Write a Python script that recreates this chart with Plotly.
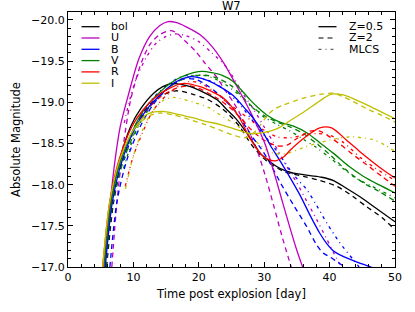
import plotly.graph_objects as go

# ---------------- data (time in days, absolute magnitude) ----------------
# Z = 0.5 (solid)
bol_z05_t = [5.6, 6.6, 7.9, 9.6, 11.1, 13.1, 14.5, 16.0, 17.0, 18.7, 20.5, 22.8, 24.3, 25.8, 27.3, 28.4, 29.4, 30.6, 31.9, 33.2, 34.5, 37.0, 38.8, 40.6, 42.5, 44.7, 47.0, 50.0]
bol_z05_m = [-17.0, -17.8, -18.3, -18.71, -18.92, -19.11, -19.19, -19.23, -19.22, -19.19, -19.13, -19.03, -18.91, -18.79, -18.63, -18.5, -18.38, -18.3, -18.22, -18.17, -18.14, -18.11, -18.09, -18.05, -17.96, -17.85, -17.72, -17.55]

U_z05_t = [5.6, 6.5, 7.2, 8.0, 9.3, 10.8, 12.5, 14.0, 15.3, 16.5, 18.0, 20.2, 22.0, 23.8, 25.3, 26.6, 27.85, 29.0, 30.1, 31.0, 31.9, 32.9, 34.0, 35.0, 36.1]
U_z05_m = [-17.0, -17.81, -18.3, -18.71, -19.11, -19.52, -19.8, -19.93, -19.98, -19.97, -19.92, -19.82, -19.68, -19.48, -19.27, -19.08, -18.89, -18.7, -18.5, -18.28, -18.04, -17.76, -17.46, -17.2, -16.95]

B_z05_t = [5.7, 6.8, 8.3, 10.4, 12.2, 14.1, 16.5, 18.5, 20.0, 21.5, 23.0, 25.3, 27.0, 28.4, 29.7, 31.0, 32.5, 34.0, 35.5, 37.0, 38.5, 39.6, 40.5, 41.5, 42.6, 44.5, 46.3, 47.0]
B_z05_m = [-17.0, -17.8, -18.3, -18.71, -18.93, -19.09, -19.25, -19.31, -19.3, -19.26, -19.2, -19.08, -18.93, -18.8, -18.65, -18.47, -18.28, -18.08, -17.87, -17.63, -17.41, -17.28, -17.2, -17.15, -17.11, -17.05, -17.0, -16.98]

V_z05_t = [5.5, 6.6, 8.1, 10.2, 12.0, 14.0, 16.0, 18.0, 20.5, 22.0, 23.5, 25.3, 26.5, 27.85, 29.0, 30.5, 32.4, 34.5, 36.5, 38.5, 40.6, 43.0, 45.2, 47.5, 50.0]
V_z05_m = [-17.0, -17.8, -18.3, -18.71, -18.95, -19.12, -19.25, -19.33, -19.375, -19.36, -19.33, -19.25, -19.15, -19.03, -18.94, -18.84, -18.76, -18.71, -18.63, -18.51, -18.38, -18.22, -18.1, -18.0, -17.9]

R_z05_t = [5.3, 6.4, 7.8, 9.8, 11.5, 13.5, 15.5, 17.65, 20.2, 22.0, 23.8, 25.0, 26.3, 27.85, 29.9, 31.6, 33.0, 34.0, 36.0, 38.5, 40.3, 42.6, 44.5, 46.2, 48.0, 50.0]
R_z05_m = [-17.0, -17.8, -18.3, -18.71, -18.91, -19.07, -19.17, -19.23, -19.19, -19.13, -19.05, -18.95, -18.8, -18.56, -18.34, -18.29, -18.34, -18.42, -18.56, -18.69, -18.69, -18.54, -18.41, -18.3, -18.19, -18.08]

I_z05_t = [5.3, 6.4, 7.9, 9.5, 10.5, 11.8, 13.0, 14.5, 16.0, 19.2, 21.0, 23.3, 25.3, 27.3, 28.5, 30.4, 32.0, 34.0, 36.0, 38.0, 39.3, 40.3, 42.1, 44.0, 45.7, 47.5, 50.0]
I_z05_m = [-17.0, -17.8, -18.3, -18.6, -18.72, -18.84, -18.88, -18.89, -18.87, -18.81, -18.77, -18.73, -18.68, -18.63, -18.62, -18.64, -18.68, -18.78, -18.88, -18.99, -19.06, -19.1, -19.09, -19.03, -18.97, -18.9, -18.8]

# Z = 2 (dashed)
bol_z2_t = [5.9, 7.0, 8.4, 10.2, 12.0, 14.0, 16.5, 19.0, 21.2, 23.3, 24.5, 26.3, 27.5, 28.5, 30.5, 33.0, 36.0, 38.5, 41.1, 43.5, 45.7, 48.0, 50.0]
bol_z2_m = [-17.0, -17.8, -18.3, -18.7, -18.93, -19.07, -19.14, -19.1, -19.04, -18.94, -18.86, -18.7, -18.55, -18.44, -18.28, -18.16, -18.1, -18.05, -17.98, -17.86, -17.73, -17.6, -17.45]

U_z2_t = [6.7, 7.5, 8.5, 9.5, 10.4, 11.3, 12.5, 14.0, 15.6, 16.5, 17.7, 19.5, 21.0, 22.8, 24.0, 25.3, 26.5, 27.8, 28.9, 30.2, 31.4, 32.7, 34.2]
U_z2_m = [-17.0, -17.8, -18.5, -19.0, -19.28, -19.5, -19.7, -19.82, -19.87, -19.85, -19.76, -19.62, -19.47, -19.3, -19.15, -19.0, -18.83, -18.62, -18.42, -18.1, -17.76, -17.38, -16.98]

B_z2_t = [6.4, 7.5, 9.0, 11.0, 13.0, 15.0, 17.5, 19.5, 21.0, 23.0, 25.8, 28.0, 29.5, 30.9, 32.5, 34.5, 36.5, 38.0, 39.0, 40.1, 41.2, 42.5]
B_z2_m = [-17.0, -17.8, -18.3, -18.7, -18.97, -19.15, -19.28, -19.28, -19.22, -19.1, -18.87, -18.6, -18.44, -18.26, -18.02, -17.75, -17.49, -17.27, -17.17, -17.12, -17.06, -16.99]

V_z2_t = [5.8, 6.9, 8.5, 10.6, 12.5, 14.5, 16.5, 19.0, 21.0, 23.0, 25.0, 26.5, 28.0, 30.0, 32.0, 34.0, 36.0, 38.0, 40.1, 42.5, 45.2, 47.5, 50.0]
V_z2_m = [-17.0, -17.8, -18.3, -18.7, -18.95, -19.12, -19.24, -19.32, -19.33, -19.29, -19.2, -19.08, -18.96, -18.84, -18.76, -18.7, -18.62, -18.5, -18.36, -18.18, -18.02, -17.92, -17.8]

R_z2_t = [5.5, 6.7, 8.2, 10.3, 12.2, 14.2, 16.5, 18.5, 20.0, 23.0, 25.0, 26.5, 28.0, 30.0, 32.0, 33.5, 35.0, 37.0, 38.5, 40.0, 41.6, 43.5, 45.7, 48.0, 50.0]
R_z2_m = [-17.0, -17.8, -18.3, -18.7, -18.92, -19.07, -19.17, -19.2, -19.17, -19.04, -18.92, -18.8, -18.67, -18.54, -18.47, -18.48, -18.56, -18.65, -18.65, -18.58, -18.49, -18.37, -18.24, -18.1, -17.98]

I_z2_t = [5.5, 6.7, 8.2, 9.8, 11.0, 12.5, 14.0, 16.0, 19.0, 21.0, 23.0, 25.3, 27.0, 28.0, 29.2, 30.3, 31.4, 33.0, 34.8, 36.0, 38.8, 40.6, 42.0, 43.1, 46.0, 48.0, 50.0]
I_z2_m = [-17.0, -17.8, -18.3, -18.6, -18.75, -18.84, -18.87, -18.85, -18.78, -18.73, -18.67, -18.6, -18.57, -18.6, -18.7, -18.82, -18.91, -18.97, -19.02, -19.05, -19.1, -19.11, -19.07, -19.03, -18.91, -18.84, -18.76]

# MLCS (dash-dot)
U_mlcs_t = [8.6, 9.5, 10.5, 12.0, 13.5, 15.0, 16.4, 18.0, 19.95, 22.0, 24.3, 26.8, 28.5, 30.0, 31.5, 33.0, 35.0, 36.5, 38.0, 39.5, 41.1, 42.0]
U_mlcs_m = [-18.75, -19.05, -19.3, -19.55, -19.72, -19.8, -19.83, -19.81, -19.74, -19.6, -19.42, -19.1, -18.9, -18.7, -18.5, -18.28, -18.02, -17.8, -17.58, -17.35, -17.1, -16.98]

B_mlcs_t = [8.6, 9.8, 11.2, 13.0, 15.0, 17.0, 18.5, 20.0, 22.0, 24.0, 26.0, 28.0, 30.0, 32.0, 34.5, 36.5, 38.0, 39.6, 41.5, 43.6, 44.5]
B_mlcs_m = [-18.3, -18.6, -18.85, -19.05, -19.2, -19.3, -19.33, -19.3, -19.25, -19.15, -19.0, -18.8, -18.6, -18.4, -18.12, -17.94, -17.75, -17.53, -17.3, -17.09, -17.0]

V_mlcs_t = [8.5, 9.7, 11.0, 13.0, 15.0, 17.0, 19.0, 20.5, 22.0, 24.0, 26.0, 28.0, 30.0, 32.0, 34.0, 36.0, 38.0, 40.0, 42.0, 44.0, 46.5, 50.0]
V_mlcs_m = [-18.2, -18.5, -18.75, -18.98, -19.15, -19.27, -19.32, -19.33, -19.3, -19.22, -19.1, -18.95, -18.82, -18.73, -18.65, -18.55, -18.45, -18.33, -18.2, -18.08, -17.98, -17.84]

R_mlcs_t = [8.75, 10.0, 11.5, 13.0, 15.0, 17.0, 18.5, 20.0, 22.0, 24.0, 26.0, 28.0, 30.0, 32.0, 34.0, 36.0, 38.0, 40.0, 42.0, 44.7, 47.0, 50.0]
R_mlcs_m = [-17.98, -18.35, -18.65, -18.9, -19.08, -19.2, -19.25, -19.24, -19.15, -19.02, -18.9, -18.78, -18.66, -18.58, -18.57, -18.6, -18.62, -18.6, -18.52, -18.33, -18.2, -18.05]

I_mlcs_t = [8.8, 10.0, 11.5, 13.0, 14.5, 16.0, 19.2, 21.7, 22.8, 25.8, 28.0, 30.0, 31.5, 33.5, 36.0, 38.0, 41.0, 43.5, 46.5, 48.5, 50.0]
I_mlcs_m = [-17.95, -18.35, -18.68, -18.9, -19.02, -19.06, -19.0, -18.93, -18.87, -18.72, -18.58, -18.44, -18.38, -18.38, -18.45, -18.5, -18.56, -18.58, -18.55, -18.48, -18.4]

band_names = ["bol", "U", "B", "V", "R", "I"]
model_names = ["Z=0.5", "Z=2", "MLCS"]
chart_title = "W7"

x_tick_vals = [0, 10, 20, 30, 40, 50]
x_tick_text = ["0", "10", "20", "30", "40", "50"]
y_tick_vals = [-20.0, -19.5, -19.0, -18.5, -18.0, -17.5, -17.0]
y_tick_text = ["\u221220.0", "\u221219.5", "\u221219.0", "\u221218.5", "\u221218.0", "\u221217.5", "\u221217.0"]

# ---------------- styles ----------------
band_colors = {"bol": "#000000", "U": "#bf00bf", "B": "#0000ff",
               "V": "#008000", "R": "#ff0000", "I": "#bfbf00"}
model_dash = {"Z=0.5": "solid", "Z=2": "5px,4px", "MLCS": "3px,4px,1px,4px"}
legend_model_colors = {"Z=0.5": "#000000", "Z=2": "#555555", "MLCS": "#666666"}
LW = 1.3
FONT = "DejaVu Sans"

series = {
    ("bol", "Z=0.5"): (bol_z05_t, bol_z05_m),
    ("U", "Z=0.5"): (U_z05_t, U_z05_m),
    ("B", "Z=0.5"): (B_z05_t, B_z05_m),
    ("V", "Z=0.5"): (V_z05_t, V_z05_m),
    ("R", "Z=0.5"): (R_z05_t, R_z05_m),
    ("I", "Z=0.5"): (I_z05_t, I_z05_m),
    ("bol", "Z=2"): (bol_z2_t, bol_z2_m),
    ("U", "Z=2"): (U_z2_t, U_z2_m),
    ("B", "Z=2"): (B_z2_t, B_z2_m),
    ("V", "Z=2"): (V_z2_t, V_z2_m),
    ("R", "Z=2"): (R_z2_t, R_z2_m),
    ("I", "Z=2"): (I_z2_t, I_z2_m),
    ("U", "MLCS"): (U_mlcs_t, U_mlcs_m),
    ("B", "MLCS"): (B_mlcs_t, B_mlcs_m),
    ("V", "MLCS"): (V_mlcs_t, V_mlcs_m),
    ("R", "MLCS"): (R_mlcs_t, R_mlcs_m),
    ("I", "MLCS"): (I_mlcs_t, I_mlcs_m),
}

fig = go.Figure()
for model in ["MLCS", "Z=2", "Z=0.5"]:
    for band in band_names:
        key = (band, model)
        if key not in series:
            continue
        t, m = series[key]
        fig.add_trace(go.Scatter(
            x=t, y=m, mode="lines", name=f"{band} {model}", showlegend=False,
            line=dict(color=band_colors[band], width=LW, dash=model_dash[model],
                      shape="spline", smoothing=0.8),
            hoverinfo="skip"))

# ---------------- layout ----------------
W, H = 415, 312
ML, MR, MT, MB = 68, 20, 12, 45
PW, PH = W - ML - MR, H - MT - MB

def px2paper(xp, yp):
    return (xp - ML) / PW, (H - MB - yp) / PH

shapes, annotations = [], []
row_y = [26.7 + 11.3 * i for i in range(len(band_names))]
for i, band in enumerate(band_names):
    x0, y0 = px2paper(81.5, row_y[i])
    x1, _ = px2paper(99.5, row_y[i])
    shapes.append(dict(type="line", xref="paper", yref="paper", x0=x0, x1=x1, y0=y0, y1=y0,
                       line=dict(color=band_colors[band], width=LW)))
    xt, _ = px2paper(110, row_y[i])
    annotations.append(dict(text=band, xref="paper", yref="paper", x=xt, y=y0,
                            xanchor="left", yanchor="middle", showarrow=False, height=11,
                            borderpad=0, font=dict(family=FONT, size=11, color="black")))
for i, model in enumerate(model_names):
    x0, y0 = px2paper(318.5, row_y[i])
    x1, _ = px2paper(336.5, row_y[i])
    shapes.append(dict(type="line", xref="paper", yref="paper", x0=x0, x1=x1, y0=y0, y1=y0,
                       line=dict(color=legend_model_colors[model], width=LW, dash=model_dash[model])))
    xt, _ = px2paper(348, row_y[i])
    annotations.append(dict(text=model, xref="paper", yref="paper", x=xt, y=y0,
                            xanchor="left", yanchor="middle", showarrow=False, height=11,
                            borderpad=0, font=dict(family=FONT, size=11, color="black")))

# chart title, kept fully inside the top margin
annotations.append(dict(text=chart_title, xref="paper", yref="paper", x=0.5, y=1.0,
                        xanchor="center", yanchor="bottom", yshift=-1.5, height=12,
                        valign="middle", showarrow=False, borderpad=0,
                        font=dict(family=FONT, size=11.5, color="black")))

axis_common = dict(showline=True, linecolor="black", linewidth=1, mirror="allticks",
                   ticks="inside", ticklen=5, tickwidth=1, tickcolor="black",
                   showgrid=False, zeroline=False, automargin=False,
                   tickfont=dict(family=FONT, size=11, color="black"))

fig.update_layout(
    width=W, height=H,
    margin=dict(l=ML, r=MR, t=MT, b=MB, pad=0, autoexpand=False),
    paper_bgcolor="white", plot_bgcolor="white",
    showlegend=False,
    shapes=shapes, annotations=annotations,
    xaxis=dict(range=[0, 50], tickmode="array", tickvals=x_tick_vals, ticktext=x_tick_text,
               minor=dict(dtick=2, ticks="inside", ticklen=3, tickcolor="black", showgrid=False),
               title=dict(text="Time post explosion [day]", standoff=6,
                          font=dict(family=FONT, size=11.5, color="black")),
               **axis_common),
    yaxis=dict(range=[-17.0, -20.097], tickmode="array", tickvals=y_tick_vals, ticktext=y_tick_text,
               minor=dict(dtick=0.1, ticks="inside", ticklen=3, tickcolor="black", showgrid=False),
               title=dict(text="Absolute Magnitude", standoff=8,
                          font=dict(family=FONT, size=11.5, color="black")),
               **axis_common),
)

fig.write_html("out.html", config={"displayModeBar": False, "staticPlot": True},
               post_script="document.body.style.margin='0';document.body.style.padding='0';")
